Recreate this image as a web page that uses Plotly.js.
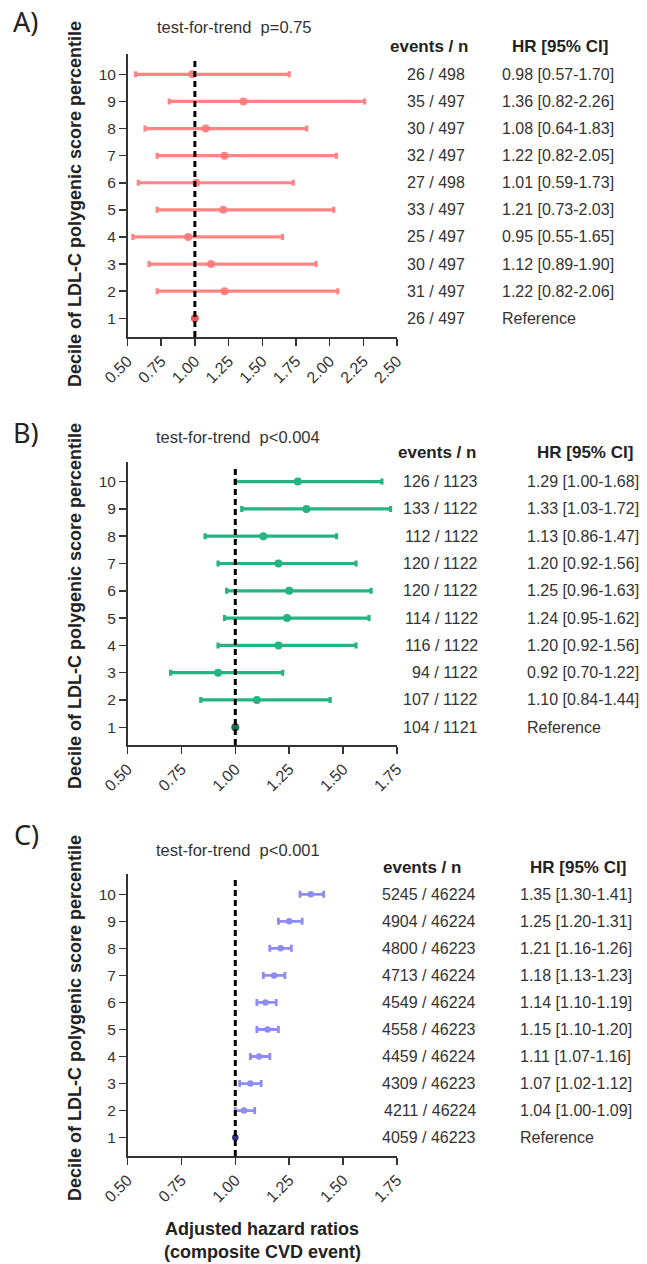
<!DOCTYPE html>
<html>
<head>
<meta charset="utf-8">
<script src="https://cdn.plot.ly/plotly-3.0.1.min.js"></script>
<style>html,body{margin:0;padding:0;background:#fff;}#chart{width:647px;height:1264px;}</style>
</head>
<body>
<div id="chart"></div>
<script>
// ---------- DATA ----------
const deciles = [10, 9, 8, 7, 6, 5, 4, 3, 2, 1];

const A_hr = [0.98, 1.36, 1.08, 1.22, 1.01, 1.21, 0.95, 1.12, 1.22, 1.00];
const A_lo = [0.56, 0.81, 0.63, 0.72, 0.58, 0.72, 0.54, 0.66, 0.72, 1.00];
const A_hi = [1.70, 2.26, 1.83, 2.05, 1.73, 2.03, 1.65, 1.90, 2.06, 1.00];
const A_events = ['26 / 498','35 / 497','30 / 497','32 / 497','27 / 498','33 / 497','25 / 497','30 / 497','31 / 497','26 / 497'];
const A_hrText = ['0.98 [0.57-1.70]','1.36 [0.82-2.26]','1.08 [0.64-1.83]','1.22 [0.82-2.05]','1.01 [0.59-1.73]','1.21 [0.73-2.03]','0.95 [0.55-1.65]','1.12 [0.89-1.90]','1.22 [0.82-2.06]','Reference'];

const B_hr = [1.29, 1.33, 1.13, 1.20, 1.25, 1.24, 1.20, 0.92, 1.10, 1.00];
const B_lo = [1.00, 1.03, 0.86, 0.92, 0.96, 0.95, 0.92, 0.70, 0.84, 1.00];
const B_hi = [1.68, 1.72, 1.47, 1.56, 1.63, 1.62, 1.56, 1.22, 1.44, 1.00];
const B_events = ['126 / 1123','133 / 1122','112 / 1122','120 / 1122','120 / 1122','114 / 1122','116 / 1122','94 / 1122','107 / 1122','104 / 1121'];
const B_hrText = ['1.29 [1.00-1.68]','1.33 [1.03-1.72]','1.13 [0.86-1.47]','1.20 [0.92-1.56]','1.25 [0.96-1.63]','1.24 [0.95-1.62]','1.20 [0.92-1.56]','0.92 [0.70-1.22]','1.10 [0.84-1.44]','Reference'];

const C_hr = [1.35, 1.25, 1.21, 1.18, 1.14, 1.15, 1.11, 1.07, 1.04, 1.00];
const C_lo = [1.30, 1.20, 1.16, 1.13, 1.10, 1.10, 1.07, 1.02, 1.00, 1.00];
const C_hi = [1.41, 1.31, 1.26, 1.23, 1.19, 1.20, 1.16, 1.12, 1.09, 1.00];
const C_events = ['5245 / 46224','4904 / 46224','4800 / 46223','4713 / 46224','4549 / 46224','4558 / 46223','4459 / 46224','4309 / 46223','4211 / 46224','4059 / 46223'];
const C_hrText = ['1.35 [1.30-1.41]','1.25 [1.20-1.31]','1.21 [1.16-1.26]','1.18 [1.13-1.23]','1.14 [1.10-1.19]','1.15 [1.10-1.20]','1.11 [1.07-1.16]','1.07 [1.02-1.12]','1.04 [1.00-1.09]','Reference'];

const xTicksA = [0.50, 0.75, 1.00, 1.25, 1.50, 1.75, 2.00, 2.25, 2.50];
const xTicksBC = [0.50, 0.75, 1.00, 1.25, 1.50, 1.75];
const yTicks = [1,2,3,4,5,6,7,8,9,10];

const panelLabels = ['A)', 'B)', 'C)'];
const trendTitles = ['test-for-trend  p=0.75', 'test-for-trend  p<0.004', 'test-for-trend  p<0.001'];
const yTitle = 'Decile of LDL-C polygenic score percentile';
const xTitleLines = ['Adjusted hazard ratios', '(composite CVD event)'];
const headEvents = 'events / n';
const headHR = 'HR [95% CI]';

// ---------- LAYOUT HELPERS ----------
const W = 647, H = 1264;
const px = v => v / W;
const py = v => 1 - v / H;
const FONT = 'Liberation Sans, Arial, sans-serif';

const panels = [
  {hr:A_hr, lo:A_lo, hi:A_hi, ev:A_events, txt:A_hrText, ticks:xTicksA, xr:[0.5,2.5],
   col:'rgba(255,120,120,0.9)', refCol:'#e85a5a', top:54, bot:337, yr:[0.31,10.75], msize:8, thick:3.2, cap:3,
   label:[25,22], title:[234,27], yt:[75,204], headY:47, evX:467, evHX:429, hrX:500, hrHX:560},
  {hr:B_hr, lo:B_lo, hi:B_hi, ev:B_events, txt:B_hrText, ticks:xTicksBC, xr:[0.5,1.75],
   col:'#25b383', refCol:'#17704f', top:461.7, bot:745, yr:[0.35,10.73], msize:8, thick:3.2, cap:3,
   label:[26,432], title:[238,437], yt:[75,606], headY:452, evX:480, evHX:437, hrX:525, hrHX:585},
  {hr:C_hr, lo:C_lo, hi:C_hi, ev:C_events, txt:C_hrText, ticks:xTicksBC, xr:[0.5,1.75],
   col:'#8c8cf2', refCol:'#2e2e8a', top:874.3, bot:1156, yr:[0.32,10.74], msize:6.5, thick:2.8, cap:3.5,
   label:[26,834], title:[238,850], yt:[75,1018], headY:867, evX:478, evHX:422, hrX:518, hrHX:578}
];

const data = [];
const layout = {
  width: W, height: H,
  margin: {l:0, r:0, t:0, b:0},
  paper_bgcolor: '#fff', plot_bgcolor: '#fff',
  showlegend: false,
  font: {family: FONT, color: '#222'},
  annotations: [], shapes: []
};

panels.forEach((p, i) => {
  const n = i === 0 ? '' : String(i + 1);
  const xa = 'x' + n, ya = 'y' + n;
  data.push({
    type: 'scatter', mode: 'markers', xaxis: xa, yaxis: ya,
    x: p.hr, y: deciles,
    marker: {size: p.msize, color: deciles.map(d => d === 1 ? p.refCol : p.col)},
    error_x: {type:'data', symmetric:false,
      array: p.hi.map((h, k) => h - p.hr[k]),
      arrayminus: p.lo.map((l, k) => p.hr[k] - l),
      color: p.col, thickness: p.thick, width: p.cap},
    cliponaxis: false, hoverinfo: 'skip'
  });
  layout['xaxis' + n] = {
    domain: [px(127.5), px(397)], anchor: ya, range: p.xr,
    tickvals: p.ticks, ticktext: p.ticks.map(v => v.toFixed(2)),
    tickangle: -45, ticks: 'outside', ticklen: 7, tickwidth: 1.5, tickcolor: '#333',
    showline: true, linecolor: '#333', linewidth: 1.5, showgrid: false, zeroline: false,
    tickfont: {family: FONT, size: 16, color: '#333'}, fixedrange: true
  };
  layout['yaxis' + n] = {
    domain: [py(p.bot), py(p.top)], anchor: xa, range: p.yr,
    tickvals: yTicks, ticks: 'outside', ticklen: 7, tickwidth: 1.5, tickcolor: '#333',
    showline: true, linecolor: '#333', linewidth: 1.5, showgrid: false, zeroline: false,
    tickfont: {family: FONT, size: 15.5, color: '#333'}, fixedrange: true
  };
  // dashed reference line at HR = 1
  layout.shapes.push({type:'line', xref: xa, yref: ya, x0: 1, x1: 1, y0: p.yr[0], y1: 10.6,
    line: {color:'#000', width: 3, dash: '6px,4px'}, layer: 'above'});
  // panel label
  layout.annotations.push({xref:'paper', yref:'paper', x: px(p.label[0]), y: py(p.label[1]),
    text: panelLabels[i], showarrow:false, xanchor:'center', yanchor:'middle',
    font:{family:'Noto Sans, Open Sans, sans-serif', size: 27, color:'#222'}});
  // test-for-trend title
  layout.annotations.push({xref:'paper', yref:'paper', x: px(p.title[0]), y: py(p.title[1]),
    text: trendTitles[i], showarrow:false, xanchor:'center', yanchor:'middle',
    font:{family:FONT, size: 16.5, color:'#333'}});
  // y-axis title
  layout.annotations.push({xref:'paper', yref:'paper', x: px(p.yt[0]), y: py(p.yt[1]),
    text: '<b>' + yTitle + '</b>', textangle: -90, showarrow:false, xanchor:'center', yanchor:'middle',
    font:{family:FONT, size: 18, color:'#222'}});
  // column headers
  layout.annotations.push({xref:'paper', yref:'paper', x: px(p.evHX), y: py(p.headY),
    text: '<b>' + headEvents + '</b>', showarrow:false, xanchor:'center', yanchor:'middle',
    font:{family:FONT, size: 17, color:'#222'}});
  layout.annotations.push({xref:'paper', yref:'paper', x: px(p.hrHX), y: py(p.headY),
    text: '<b>' + headHR + '</b>', showarrow:false, xanchor:'center', yanchor:'middle',
    font:{family:FONT, size: 17, color:'#222'}});
  // row texts
  deciles.forEach((d, k) => {
    layout.annotations.push({xref:'paper', yref: ya, x: px(p.evX), y: d,
      text: p.ev[k], showarrow:false, xanchor:'right', yanchor:'middle',
      font:{family:FONT, size: 16, color:'#333'}});
    layout.annotations.push({xref:'paper', yref: ya, x: px(p.hrX), y: d,
      text: p.txt[k], showarrow:false, xanchor:'left', yanchor:'middle',
      font:{family:FONT, size: 16, color:'#333'}});
  });
});

// x-axis title (bottom panel)
layout.annotations.push({xref:'paper', yref:'paper', x: px(262), y: py(1229),
  text: '<b>' + xTitleLines[0] + '</b>', showarrow:false, xanchor:'center', yanchor:'middle',
  font:{family:FONT, size: 18, color:'#222'}});
layout.annotations.push({xref:'paper', yref:'paper', x: px(262), y: py(1252),
  text: '<b>' + xTitleLines[1] + '</b>', showarrow:false, xanchor:'center', yanchor:'middle',
  font:{family:FONT, size: 18, color:'#222'}});

Plotly.newPlot('chart', data, layout, {displayModeBar: false, staticPlot: true});
</script>
</body>
</html>
